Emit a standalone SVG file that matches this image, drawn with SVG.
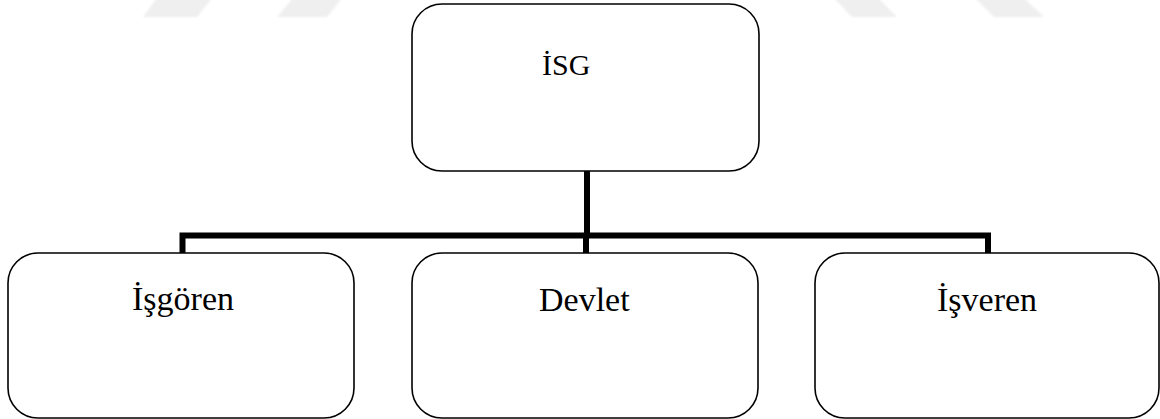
<svg xmlns="http://www.w3.org/2000/svg" width="1160" height="419" viewBox="0 0 1160 419">
  <style>
    .box { fill: #ffffff; stroke: #000000; stroke-width: 1.6; }
    .label { font-family: "Liberation Serif", "Times New Roman", serif; fill: #000000; }
    .link { fill: none; stroke: #000000; stroke-width: 6; stroke-linejoin: miter; stroke-linecap: butt; }
    .mark { fill: #efefef; }
  </style>
  <defs>
    <filter id="soft" x="-10%" y="-50%" width="120%" height="200%">
      <feGaussianBlur stdDeviation="1.2"/>
    </filter>
  </defs>
  <rect width="1160" height="419" fill="#ffffff"/>

  <!-- faint background emblem strokes along the top edge -->
  <g id="backdrop" filter="url(#soft)">
    <polygon class="mark" points="157,-2 212,-2 197,17 143,17"/>
    <polygon class="mark" points="293,-2 342,-2 327,17 277,17"/>
    <polygon class="mark" points="834,-2 878,-2 897,17 852,17"/>
    <polygon class="mark" points="975,-2 1024,-2 1044,17 994,17"/>
  </g>

  <!-- tree connectors -->
  <g id="connectors">
    <path class="link" d="M587,171 V235.5"/>
    <path class="link" d="M182.5,253 V235.5 H988 V253"/>
    <path class="link" d="M586,235.5 V253"/>
  </g>

  <g id="node-isg">
    <rect class="box" x="412" y="4" width="347" height="167" rx="30" ry="30"/>
    <text class="label" x="542" y="75" font-size="30">İSG</text>
  </g>

  <g id="node-isgoren">
    <rect class="box" x="8" y="253" width="346" height="165" rx="30" ry="30"/>
    <text class="label" x="132" y="310" font-size="34">İşgören</text>
  </g>

  <g id="node-devlet">
    <rect class="box" x="412" y="253" width="346" height="165" rx="30" ry="30"/>
    <text class="label" x="539" y="311" font-size="34">Devlet</text>
  </g>

  <g id="node-isveren">
    <rect class="box" x="815" y="253" width="344" height="165" rx="30" ry="30"/>
    <text class="label" x="937" y="311" font-size="34">İşveren</text>
  </g>
</svg>
